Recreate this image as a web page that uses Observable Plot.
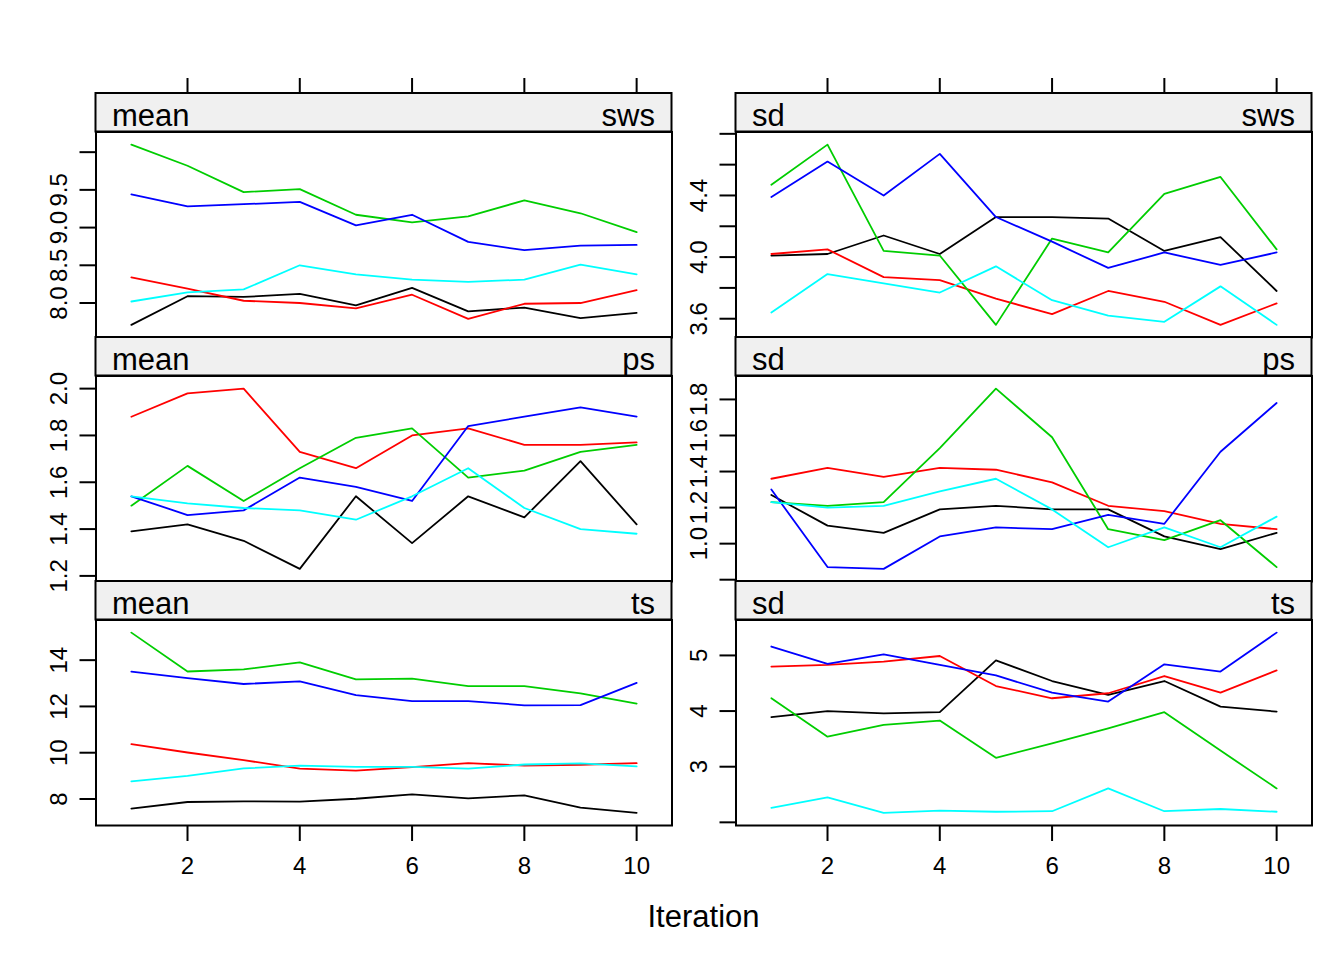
<!DOCTYPE html>
<html>
<head>
<meta charset="utf-8">
<script src="https://cdn.jsdelivr.net/npm/d3@7"></script>
<script src="https://cdn.jsdelivr.net/npm/@observablehq/plot@0.6"></script>
<style>
  body { margin: 0; background: #fff; }
  #chart { position: relative; width: 1344px; height: 960px; background: #fff; }
  #chart svg { position: absolute; }
</style>
</head>
<body>
<div id="chart"></div>
<script>
// Convergence of five imputation chains over ten iterations
const iterations = [1, 2, 3, 4, 5, 6, 7, 8, 9, 10];
const chains = ["1", "2", "3", "4", "5"];
const chainColors = ["#000000", "#ff0000", "#00cd00", "#0000ff", "#00ffff"];
const xTicks = [2, 4, 6, 8, 10];

// one row of values per chain (black, red, green, blue, cyan)
const meanSws = [
  [7.71, 8.09, 8.08, 8.12, 7.97, 8.20, 7.89, 7.94, 7.80, 7.87],
  [8.34, 8.19, 8.03, 8.00, 7.93, 8.11, 7.79, 7.99, 8.00, 8.17],
  [10.10, 9.82, 9.47, 9.51, 9.17, 9.07, 9.15, 9.36, 9.19, 8.94],
  [9.44, 9.28, 9.31, 9.34, 9.03, 9.17, 8.81, 8.70, 8.76, 8.77],
  [8.02, 8.14, 8.18, 8.50, 8.38, 8.31, 8.28, 8.31, 8.51, 8.38]
];
const sdSws = [
  [4.01, 4.02, 4.14, 4.02, 4.26, 4.26, 4.25, 4.04, 4.13, 3.78],
  [4.02, 4.05, 3.87, 3.85, 3.73, 3.63, 3.78, 3.71, 3.56, 3.70],
  [4.47, 4.73, 4.04, 4.01, 3.56, 4.12, 4.03, 4.41, 4.52, 4.05],
  [4.39, 4.62, 4.40, 4.67, 4.26, 4.10, 3.93, 4.03, 3.95, 4.03],
  [3.64, 3.89, 3.83, 3.77, 3.94, 3.72, 3.62, 3.58, 3.81, 3.56]
];
const meanPs = [
  [1.39, 1.42, 1.35, 1.23, 1.54, 1.34, 1.54, 1.45, 1.69, 1.42],
  [1.88, 1.98, 2.00, 1.73, 1.66, 1.80, 1.83, 1.76, 1.76, 1.77],
  [1.50, 1.67, 1.52, 1.66, 1.79, 1.83, 1.62, 1.65, 1.73, 1.76],
  [1.54, 1.46, 1.48, 1.62, 1.58, 1.52, 1.84, 1.88, 1.92, 1.88],
  [1.54, 1.51, 1.49, 1.48, 1.44, 1.54, 1.66, 1.49, 1.40, 1.38]
];
const sdPs = [
  [1.27, 1.10, 1.06, 1.19, 1.21, 1.19, 1.19, 1.04, 0.97, 1.06],
  [1.36, 1.42, 1.37, 1.42, 1.41, 1.34, 1.21, 1.18, 1.11, 1.08],
  [1.23, 1.21, 1.23, 1.53, 1.86, 1.59, 1.08, 1.02, 1.13, 0.87],
  [1.30, 0.87, 0.86, 1.04, 1.09, 1.08, 1.16, 1.11, 1.51, 1.78],
  [1.23, 1.20, 1.21, 1.29, 1.36, 1.19, 0.98, 1.09, 0.98, 1.15]
];
const meanTs = [
  [7.58, 7.87, 7.90, 7.89, 8.01, 8.20, 8.03, 8.16, 7.63, 7.40],
  [10.37, 10.01, 9.68, 9.31, 9.23, 9.38, 9.55, 9.44, 9.48, 9.55],
  [15.19, 13.51, 13.60, 13.90, 13.17, 13.20, 12.88, 12.88, 12.56, 12.12],
  [13.50, 13.22, 12.97, 13.08, 12.49, 12.23, 12.23, 12.05, 12.06, 13.02],
  [8.76, 9.00, 9.32, 9.44, 9.39, 9.39, 9.31, 9.49, 9.54, 9.41]
];
const sdTs = [
  [3.89, 4.00, 3.96, 3.98, 4.91, 4.54, 4.29, 4.54, 4.08, 3.99],
  [4.80, 4.83, 4.89, 4.99, 4.45, 4.23, 4.32, 4.63, 4.33, 4.73],
  [4.23, 3.54, 3.75, 3.83, 3.16, 3.42, 3.69, 3.98, 3.29, 2.61],
  [5.16, 4.85, 5.02, 4.83, 4.64, 4.33, 4.17, 4.84, 4.71, 5.41],
  [2.26, 2.45, 2.17, 2.21, 2.19, 2.20, 2.61, 2.20, 2.24, 2.19]
];

// y tick positions and the subset that carries a label
const meanSwsTicks = [8.0, 8.5, 9.0, 9.5, 10.0], meanSwsLabels = [8.0, 8.5, 9.0, 9.5];
const sdSwsTicks = [3.6, 3.8, 4.0, 4.2, 4.4, 4.6, 4.8], sdSwsLabels = [3.6, 4.0, 4.4];
const meanPsTicks = [1.2, 1.4, 1.6, 1.8, 2.0], meanPsLabels = [1.2, 1.4, 1.6, 1.8, 2.0];
const sdPsTicks = [0.8, 1.0, 1.2, 1.4, 1.6, 1.8], sdPsLabels = [1.0, 1.2, 1.4, 1.6, 1.8];
const meanTsTicks = [8, 10, 12, 14], meanTsLabels = [8, 10, 12, 14];
const sdTsTicks = [2, 3, 4, 5], sdTsLabels = [3, 4, 5];

const panels = [
  {stat: "mean", variable: "sws", series: meanSws, ticks: meanSwsTicks, labels: meanSwsLabels, digits: 1, col: 0, row: 0},
  {stat: "sd", variable: "sws", series: sdSws, ticks: sdSwsTicks, labels: sdSwsLabels, digits: 1, col: 1, row: 0},
  {stat: "mean", variable: "ps", series: meanPs, ticks: meanPsTicks, labels: meanPsLabels, digits: 1, col: 0, row: 1},
  {stat: "sd", variable: "ps", series: sdPs, ticks: sdPsTicks, labels: sdPsLabels, digits: 1, col: 1, row: 1},
  {stat: "mean", variable: "ts", series: meanTs, ticks: meanTsTicks, labels: meanTsLabels, digits: 0, col: 0, row: 2},
  {stat: "sd", variable: "ts", series: sdTs, ticks: sdTsTicks, labels: sdTsLabels, digits: 0, col: 1, row: 2}
];

const FONT = '"Liberation Sans", Arial, Helvetica, sans-serif';
const stripH = 38.5, panelW = 576, panelH = 205.5;
const colPitch = 640, rowPitch = 244, firstStripTop = 93;
const mL = 95.5, mR = 20, mT = stripH + 25, mB = 70;
const padFrac = 0.07;

// x limits: data range widened by 7% on both sides
const [it0, it1] = d3.extent(iterations);
const xPad = padFrac * (it1 - it0);

// strip above each panel: grey band with the statistic on the left and variable on the right
function strip(leftText, rightText) {
  return (index, scales, values, dims) => {
    const g = d3.create("svg:g");
    const x0 = dims.marginLeft, x1 = dims.width - dims.marginRight;
    const yb = dims.marginTop, yt = yb - stripH;
    g.append("rect")
      .attr("x", x0).attr("y", yt).attr("width", x1 - x0).attr("height", stripH)
      .attr("fill", "#f0f0f0").attr("stroke", "black").attr("stroke-width", 2);
    g.append("text").attr("x", x0 + 16.5).attr("y", yb - 6)
      .attr("font-size", 31).attr("fill", "black").attr("text-anchor", "start").text(leftText);
    g.append("text").attr("x", x1 - 16.5).attr("y", yb - 6)
      .attr("font-size", 31).attr("fill", "black").attr("text-anchor", "end").text(rightText);
    return g.node();
  };
}

const chart = document.getElementById("chart");

for (const p of panels) {
  const rows = p.series.flatMap((vals, k) =>
    vals.map((v, i) => ({iteration: iterations[i], value: v, chain: chains[k]})));
  const [lo, hi] = d3.extent(rows, d => d.value);
  const yPad = padFrac * (hi - lo);
  const fmt = d => p.labels.includes(d) ? d.toFixed(p.digits) : "";

  const svg = Plot.plot({
    width: panelW + mL + mR,
    height: panelH + mT + mB,
    marginLeft: mL, marginRight: mR, marginTop: mT, marginBottom: mB,
    style: {background: "transparent", fontFamily: FONT, overflow: "visible"},
    x: {domain: [it0 - xPad, it1 + xPad], axis: null},
    y: {domain: [lo - yPad, hi + yPad], axis: null},
    color: {domain: chains, range: chainColors},
    marks: [
      strip(p.stat, p.variable),
      Plot.line(rows, {x: "iteration", y: "value", z: "chain", stroke: "chain", strokeWidth: 1.8}),
      Plot.frame({stroke: "black", strokeWidth: 2}),
      Plot.axisY(p.ticks, {
        anchor: "left", tickSize: 16, tickPadding: 13, tickRotate: -90,
        tickFormat: fmt, fontSize: 24, fill: "black", stroke: "black", strokeWidth: 2, label: null
      }),
      p.row === 0 ? Plot.axisX(xTicks, {
        anchor: "top", tickSize: 16, tickFormat: () => "", dy: -stripH,
        stroke: "black", strokeWidth: 2, label: null
      }) : null,
      p.row === 2 ? Plot.axisX(xTicks, {
        anchor: "bottom", tickSize: 16, tickPadding: 15, fontSize: 24,
        fill: "black", stroke: "black", strokeWidth: 2, label: null
      }) : null
    ]
  });
  svg.style.left = (p.col * colPitch + 95.5 - mL) + "px";
  svg.style.top = (firstStripTop + p.row * rowPitch + stripH - mT) + "px";
  chart.appendChild(svg);
}

// shared x-axis title
const overlay = d3.create("svg")
  .attr("width", 1344).attr("height", 960)
  .style("left", "0px").style("top", "0px").style("pointer-events", "none");
overlay.append("text")
  .attr("x", 703.5).attr("y", 927)
  .attr("text-anchor", "middle")
  .attr("font-family", FONT).attr("font-size", 31).attr("fill", "black")
  .text("Iteration");
chart.appendChild(overlay.node());
</script>
</body>
</html>
